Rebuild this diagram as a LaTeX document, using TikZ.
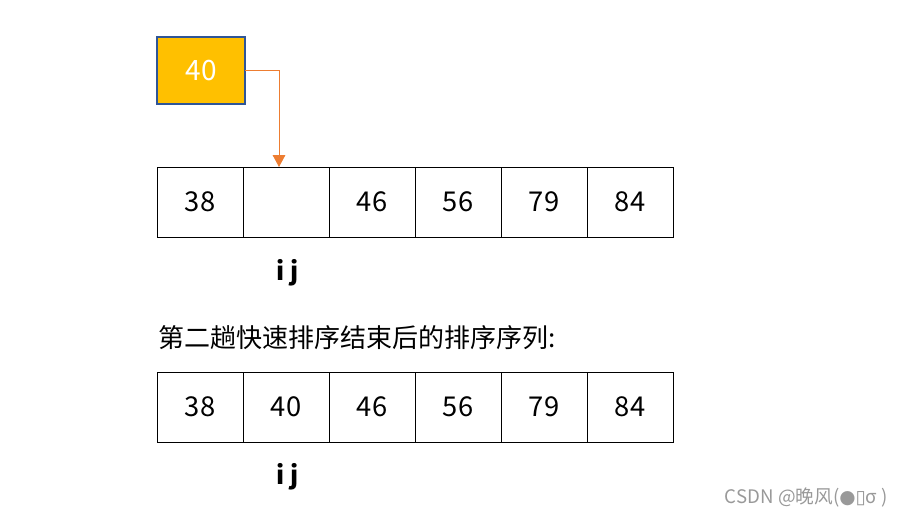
\documentclass[tikz,border=0pt]{standalone}
\usepackage{fontspec}
\setmainfont{Noto Sans CJK SC}
\newfontfamily\symfont{DejaVu Sans}
\usetikzlibrary{arrows.meta,positioning}
\definecolor{keyfill}{HTML}{FFC000}
\definecolor{keyline}{HTML}{2F5597}
\definecolor{arrowc}{HTML}{ED7D31}
\tikzset{%
  >={Triangle[width=9.5pt,length=9pt]},
  % Specifications for style of nodes:
         cell/.style = {rectangle, draw=black, line width=0.7pt,
                        minimum width=64.5pt, minimum height=52.5pt,
                        outer sep=0pt, inner sep=0pt, font=\fontsize{20.5}{24}\selectfont},
       keybox/.style = {rectangle, draw=keyline, fill=keyfill, line width=1.5pt,
                        minimum width=66pt, minimum height=50pt, outer sep=0pt,
                        text=white, font=\fontsize{21}{25}\selectfont},
      pointer/.style = {font=\bfseries\fontsize{19}{23}\selectfont},
}

\begin{document}
\begin{tikzpicture}[x=0.75pt, y=-0.75pt]
  \useasboundingbox (0,0) rectangle (902,518);
  % Pivot value taken out of the array
  \node (key) [keybox] at (201,70.5) {40};
  % Array during the second pass
  \node (a1) [cell] at (200,202) {38};
  \node (a2) [cell, right=0pt of a1] {};
  \node (a3) [cell, right=0pt of a2] {46};
  \node (a4) [cell, right=0pt of a3] {56};
  \node (a5) [cell, right=0pt of a4] {79};
  \node (a6) [cell, right=0pt of a5] {84};
  \node (ij1) [pointer] at (288,273) {i j};
  % Caption and sorted array
  \node (title) [anchor=west, inner sep=0pt, font=\fontsize{19.5}{23}\selectfont] at (158,338)
        {第二趟快速排序结束后的排序序列:};
  \node (b1) [cell] at (200,407) {38};
  \node (b2) [cell, right=0pt of b1] {40};
  \node (b3) [cell, right=0pt of b2] {46};
  \node (b4) [cell, right=0pt of b3] {56};
  \node (b5) [cell, right=0pt of b4] {79};
  \node (b6) [cell, right=0pt of b5] {84};
  \node (ij2) [pointer] at (288,477) {i j};
  % Pivot goes back into the hole
  \draw[->, color=arrowc, line width=0.75pt]
       (key.east) -| ([xshift=-5.25pt]a2.north);
  \node (mark) [anchor=east, inner sep=0pt, text=black!40, font=\fontsize{14}{16}\selectfont] at (888,497)
        {CSDN @晚风({\symfont ●▯}σ )};
\end{tikzpicture}
\end{document}
